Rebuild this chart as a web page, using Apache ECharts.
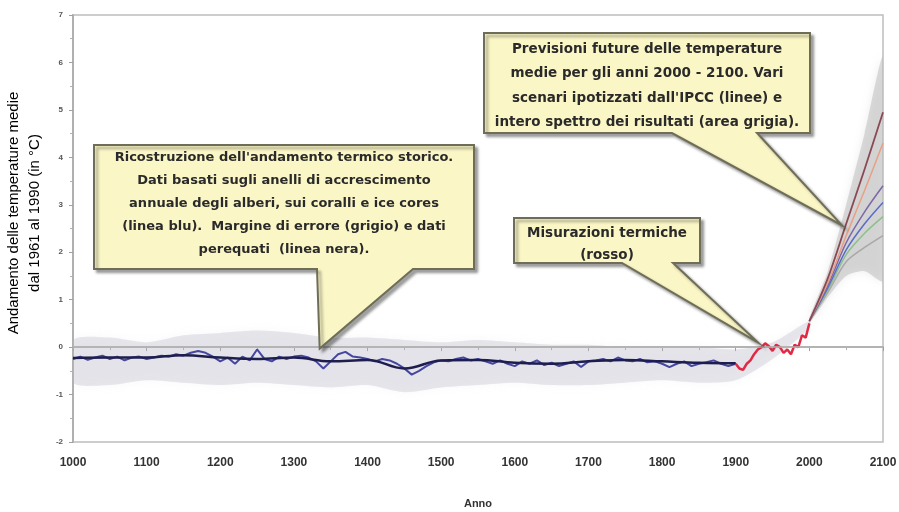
<!DOCTYPE html>
<html><head><meta charset="utf-8">
<script src="https://cdn.jsdelivr.net/npm/echarts@6.0.0/dist/echarts.min.js"></script>
<style>html,body{margin:0;padding:0;background:#fff}#c{width:899px;height:512px}</style>
</head><body><div id="c"></div>
<script>
// ---------- data ----------
const xTicks = [1000, 1100, 1200, 1300, 1400, 1500, 1600, 1700, 1800, 1900, 2000, 2100];
const yTicks = [-2, -1, 0, 1, 2, 3, 4, 5, 6, 7];

// reconstruction (blue), every 10 years 1000..1900
const histStart = 1000, histStep = 10;
const histBlue = [
  -0.25,-0.2,-0.27,-0.22,-0.18,-0.25,-0.2,-0.28,-0.22,-0.2,
  -0.25,-0.22,-0.18,-0.2,-0.15,-0.18,-0.12,-0.08,-0.12,-0.2,
  -0.3,-0.22,-0.35,-0.2,-0.28,-0.05,-0.25,-0.3,-0.2,-0.25,
  -0.2,-0.18,-0.22,-0.3,-0.45,-0.3,-0.15,-0.1,-0.2,-0.22,
  -0.25,-0.3,-0.25,-0.28,-0.35,-0.45,-0.58,-0.5,-0.4,-0.32,
  -0.28,-0.3,-0.25,-0.22,-0.28,-0.25,-0.3,-0.35,-0.28,-0.35,
  -0.4,-0.3,-0.35,-0.28,-0.38,-0.33,-0.4,-0.35,-0.3,-0.42,
  -0.3,-0.28,-0.25,-0.3,-0.22,-0.28,-0.3,-0.25,-0.32,-0.3,
  -0.35,-0.42,-0.35,-0.3,-0.4,-0.35,-0.32,-0.28,-0.35,-0.4,
  -0.35
];
// smoothed (black), every 50 years 1000..1900
const smoothStep = 50;
const histSmooth = [-0.23,-0.22,-0.22,-0.17,-0.22,-0.25,-0.22,-0.3,-0.27,-0.45,-0.28,-0.27,-0.33,-0.35,-0.3,-0.27,-0.3,-0.33,-0.34];

// error band (grey), every 50 years 1000..2000
const bandStep = 50;
const bandUpper = [0.15,0.2,0.1,0.25,0.3,0.35,0.3,0.2,0.2,0.15,0.1,0.15,0.1,0.05,0.05,0.0,0.0,0.0,-0.05,0.1,0.55];
const bandLower = [-0.75,-0.8,-0.7,-0.75,-0.8,-0.75,-0.8,-0.85,-0.8,-0.95,-0.85,-0.8,-0.75,-0.8,-0.8,-0.75,-0.7,-0.75,-0.7,-0.25,0.4];

// measured (red), every 5 years 1900..2000
const redStart = 1900, redStep = 5;
const redMeasured = [-0.35,-0.45,-0.48,-0.35,-0.28,-0.15,-0.05,0.0,0.08,0.02,-0.08,0.05,0.0,-0.12,-0.05,-0.15,0.05,0.0,0.25,0.2,0.5];

// IPCC scenarios
const projYears = [2000, 2025, 2050, 2075, 2100];
const scenBrown  = [0.55, 1.45, 2.6, 3.75, 4.95];
const scenSalmon = [0.55, 1.35, 2.35, 3.3, 4.3];
const scenPurple = [0.55, 1.3, 2.2, 2.85, 3.4];
const scenBlue   = [0.55, 1.25, 2.05, 2.6, 3.05];
const scenGreen  = [0.55, 1.2, 1.95, 2.4, 2.75];
const scenGrey   = [0.55, 1.15, 1.8, 2.1, 2.35];
const projUpper  = [0.62, 1.6, 3.0, 4.5, 6.1];
const projLower  = [0.5, 1.05, 1.5, 1.6, 1.4];

// ---------- helpers ----------
function pairs(start, step, vals) { return vals.map((v, i) => [start + i * step, v]); }
function zipXY(xs, vals) { return vals.map((v, i) => [xs[i], v]); }
function bandSeries(xs, lo, hi, color, blur, z) {
  return {
    type: 'custom', silent: true, z: z, clip: true,
    data: [[xs[0], lo[0]]],
    renderItem: function (params, api) {
      const pts = [];
      for (let i = 0; i < xs.length; i++) pts.push(api.coord([xs[i], hi[i]]));
      for (let i = xs.length - 1; i >= 0; i--) pts.push(api.coord([xs[i], lo[i]]));
      return { type: 'polygon', shape: { points: pts, smooth: 0.25 },
               style: { fill: color, shadowBlur: blur, shadowColor: color } };
    }
  };
}
function lineS(data, color, width, smooth, z) {
  return { type: 'line', data: data, showSymbol: false, symbol: 'none', smooth: smooth, z: z,
           silent: true, lineStyle: { color: color, width: width } };
}
const bandXs = bandUpper.map((v, i) => histStart + i * bandStep);

const chart = echarts.init(document.getElementById('c'), null, { renderer: 'canvas' });
const option = {
  animation: false,
  backgroundColor: '#ffffff',
  grid: { left: 73, right: 16, top: 15, bottom: 70, outerBoundsMode: 'none', containLabel: false,
          show: true, borderColor: '#bdbdbd', borderWidth: 1.5, backgroundColor: 'transparent' },
  xAxis: {
    type: 'value', min: 1000, max: 2100, interval: 100,
    name: 'Anno', nameLocation: 'middle', nameGap: 56,
    nameTextStyle: { fontFamily: 'Liberation Sans', fontSize: 11, fontWeight: 'bold', color: '#333' },
    axisLine: { show: true, lineStyle: { color: '#b0b0b0', width: 2 } },
    axisTick: { show: true, length: 4, lineStyle: { color: '#a0a0a0' } },
    minorTick: { show: true, splitNumber: 2, length: 3, lineStyle: { color: '#b0b0b0' } },
    splitLine: { show: false },
    axisLabel: { margin: 15, fontFamily: 'Liberation Sans', fontSize: 12, fontWeight: 'bold', color: '#333',
                 formatter: v => xTicks.includes(v) ? String(v) : '' }
  },
  yAxis: {
    type: 'value', min: -2, max: 7, interval: 1,
    axisLine: { show: true, lineStyle: { color: '#b0b0b0', width: 2 } },
    axisTick: { show: true, length: 4, lineStyle: { color: '#a0a0a0' } },
    minorTick: { show: true, splitNumber: 2, length: 3, lineStyle: { color: '#b0b0b0' } },
    splitLine: { show: false },
    axisLabel: { margin: 10, fontFamily: 'Liberation Sans', fontSize: 8, fontWeight: 'bold', color: '#555',
                 formatter: v => yTicks.includes(v) ? String(v) : '' }
  },
  series: [
    bandSeries(bandXs, bandLower, bandUpper, 'rgba(185,185,198,0.32)', 8, 1),
    bandSeries(projYears, projLower, projUpper, 'rgba(185,185,185,0.5)', 8, 1),
    Object.assign(lineS(pairs(histStart, histStep, histBlue), '#4646a0', 2, false, 3), {
      markLine: { silent: true, symbol: 'none', label: { show: false },
                  lineStyle: { color: '#b4b4b4', width: 1.5, type: 'solid' }, data: [{ yAxis: 0 }] }
    }),
    lineS(pairs(histStart, smoothStep, histSmooth), '#1e1e4e', 2.5, 0.4, 4),
    lineS(pairs(redStart, redStep, redMeasured), '#e02a45', 2.5, false, 4),
    lineS(zipXY(projYears, scenGrey), '#a8a8a8', 1.5, 0.3, 3),
    lineS(zipXY(projYears, scenGreen), '#8cc08c', 1.5, 0.3, 3),
    lineS(zipXY(projYears, scenBlue), '#5a6cc8', 1.5, 0.3, 3),
    lineS(zipXY(projYears, scenPurple), '#7a68a8', 1.5, 0.3, 3),
    lineS(zipXY(projYears, scenSalmon), '#e8a084', 1.5, 0.3, 3),
    lineS(zipXY(projYears, scenBrown), '#8a4a55', 1.8, 0.3, 4)
  ]
};
chart.setOption(option);

// ---------- callouts ----------
const callouts = [
  { box: [94, 145, 474, 269], base: [317, 413], tip: [1335, -0.03], fs: 13,
    lines: ["Ricostruzione dell'andamento termico storico.", "Dati basati sugli anelli di accrescimento",
            "annuale degli alberi, sui coralli e ice cores", "(linea blu).  Margine di errore (grigio) e dati",
            "perequati  (linea nera)."], top: 158, lh: 23 },
  { box: [514, 218, 700, 263], base: [622, 673], tip: [1930, 0.1], fs: 13.5,
    lines: ["Misurazioni termiche", "(rosso)"], top: 233, lh: 22 },
  { box: [484, 33, 810, 133], base: [672, 757], tip: [2044, 2.57], fs: 13.5,
    lines: ["Previsioni future delle temperature", "medie per gli anni 2000 - 2100. Vari",
            "scenari ipotizzati dall'IPCC (linee) e", "intero spettro dei risultati (area grigia)."], top: 49, lh: 24.5 }
];
const graphics = [];
callouts.forEach(c => {
  const t = chart.convertToPixel({ gridIndex: 0 }, c.tip);
  const [L, T, R, B] = c.box;
  graphics.push({
    type: 'polygon', z: 100,
    shape: { points: [[L, T], [R, T], [R, B], [c.base[1], B], t, [c.base[0], B], [L, B]] },
    style: { fill: '#fbf6c6', stroke: '#6e6e58', lineWidth: 2, lineJoin: 'miter',
             shadowBlur: 3, shadowOffsetX: 3, shadowOffsetY: 3, shadowColor: 'rgba(0,0,0,0.35)' }
  });
  c.lines.forEach((s, i) => {
    graphics.push({
      type: 'text', z: 101, x: (L + R) / 2, y: c.top + i * c.lh,
      style: { text: s, fill: '#2a2a2a', font: 'bold ' + c.fs + 'px "DejaVu Sans", sans-serif',
               textAlign: 'center', textVerticalAlign: 'middle' }
    });
  });
});
graphics.push({
  type: 'text', z: 101, x: 24, y: 213, rotation: Math.PI / 2,
  style: { text: 'Andamento delle temperature medie\ndal 1961 al 1990 (in °C)', fill: '#000',
           font: '15px "Liberation Sans", Arial, sans-serif', textAlign: 'center', textVerticalAlign: 'middle', lineHeight: 21 }
});
chart.setOption({ graphic: graphics });
</script></body></html>
